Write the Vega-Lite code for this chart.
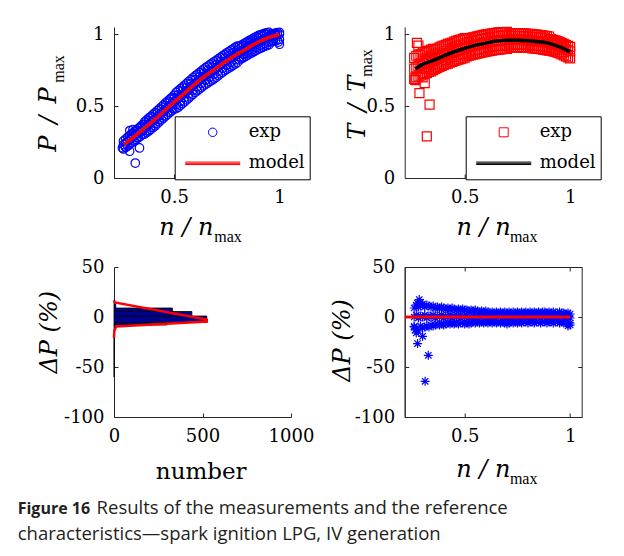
{
"$schema": "https://vega.github.io/schema/vega-lite/v6.json",
"autosize": {"type": "pad"},
"padding": {"left": 17, "top": 24, "right": 5, "bottom": 5},
"background": "white",
"title": {"text": "Figure 16", "subtitle": ["\u200b\u2003\u2003\u2003\u2003\u2009\u200aResults of the measurements and the reference", "characteristics\u2014spark ignition LPG, IV generation"], "orient": "bottom", "anchor": "start", "frame": "group", "offset": 14, "dx": -96.3, "font": "Open Sans", "fontSize": 16, "fontWeight": "bold", "color": "#231f20", "subtitleFont": "Open Sans", "subtitleFontSize": 18.5, "subtitleFontWeight": "normal", "subtitleColor": "#231f20", "subtitlePadding": -18, "subtitleLineHeight": 26},
"columns": 2,
"spacing": {"row": 89, "column": 113.7},
"bounds": "flush",
"resolve": {"scale": {"color": "independent", "shape": "independent"}, "legend": {"color": "independent", "shape": "independent"}},
"datasets": {
"p1": [
{"n":0.26,"p":0.258},{"n":0.26,"p":0.232},{"n":0.26,"p":0.202},
{"n":0.27,"p":0.27},{"n":0.27,"p":0.243},{"n":0.27,"p":0.212},
{"n":0.28,"p":0.284},{"n":0.28,"p":0.254},{"n":0.28,"p":0.222},
{"n":0.29,"p":0.296},{"n":0.29,"p":0.266},{"n":0.29,"p":0.234},
{"n":0.30,"p":0.308},{"n":0.30,"p":0.279},{"n":0.30,"p":0.246},
{"n":0.31,"p":0.32},{"n":0.31,"p":0.29},{"n":0.31,"p":0.256},
{"n":0.32,"p":0.333},{"n":0.32,"p":0.303},{"n":0.32,"p":0.268},
{"n":0.33,"p":0.344},{"n":0.33,"p":0.313},{"n":0.33,"p":0.279},
{"n":0.34,"p":0.357},{"n":0.34,"p":0.326},{"n":0.34,"p":0.29},
{"n":0.35,"p":0.37},{"n":0.35,"p":0.337},{"n":0.35,"p":0.302},
{"n":0.36,"p":0.39},{"n":0.36,"p":0.35},{"n":0.36,"p":0.305},
{"n":0.37,"p":0.403},{"n":0.37,"p":0.362},{"n":0.37,"p":0.316},
{"n":0.38,"p":0.417},{"n":0.38,"p":0.374},{"n":0.38,"p":0.326},
{"n":0.39,"p":0.428},{"n":0.39,"p":0.386},{"n":0.39,"p":0.338},
{"n":0.40,"p":0.442},{"n":0.40,"p":0.398},{"n":0.40,"p":0.35},
{"n":0.41,"p":0.455},{"n":0.41,"p":0.411},{"n":0.41,"p":0.362},
{"n":0.42,"p":0.468},{"n":0.42,"p":0.425},{"n":0.42,"p":0.376},
{"n":0.43,"p":0.481},{"n":0.43,"p":0.438},{"n":0.43,"p":0.39},
{"n":0.44,"p":0.495},{"n":0.44,"p":0.452},{"n":0.44,"p":0.404},
{"n":0.45,"p":0.508},{"n":0.45,"p":0.465},{"n":0.45,"p":0.417},
{"n":0.46,"p":0.522},{"n":0.46,"p":0.478},{"n":0.46,"p":0.43},
{"n":0.47,"p":0.535},{"n":0.47,"p":0.491},{"n":0.47,"p":0.442},
{"n":0.48,"p":0.548},{"n":0.48,"p":0.504},{"n":0.48,"p":0.455},
{"n":0.49,"p":0.56},{"n":0.49,"p":0.517},{"n":0.49,"p":0.468},
{"n":0.50,"p":0.575},{"n":0.50,"p":0.53},{"n":0.50,"p":0.48},
{"n":0.51,"p":0.595},{"n":0.51,"p":0.543},{"n":0.51,"p":0.482},
{"n":0.52,"p":0.607},{"n":0.52,"p":0.555},{"n":0.52,"p":0.492},
{"n":0.53,"p":0.62},{"n":0.53,"p":0.568},{"n":0.53,"p":0.505},
{"n":0.54,"p":0.632},{"n":0.54,"p":0.58},{"n":0.54,"p":0.517},
{"n":0.55,"p":0.645},{"n":0.55,"p":0.593},{"n":0.55,"p":0.53},
{"n":0.56,"p":0.658},{"n":0.56,"p":0.606},{"n":0.56,"p":0.543},
{"n":0.57,"p":0.671},{"n":0.57,"p":0.619},{"n":0.57,"p":0.556},
{"n":0.58,"p":0.684},{"n":0.58,"p":0.632},{"n":0.58,"p":0.569},
{"n":0.59,"p":0.697},{"n":0.59,"p":0.645},{"n":0.59,"p":0.582},
{"n":0.60,"p":0.71},{"n":0.60,"p":0.658},{"n":0.60,"p":0.595},
{"n":0.61,"p":0.721},{"n":0.61,"p":0.669},{"n":0.61,"p":0.606},
{"n":0.62,"p":0.733},{"n":0.62,"p":0.681},{"n":0.62,"p":0.618},
{"n":0.63,"p":0.744},{"n":0.63,"p":0.692},{"n":0.63,"p":0.629},
{"n":0.64,"p":0.756},{"n":0.64,"p":0.704},{"n":0.64,"p":0.641},
{"n":0.65,"p":0.767},{"n":0.65,"p":0.715},{"n":0.65,"p":0.652},
{"n":0.66,"p":0.777},{"n":0.66,"p":0.725},{"n":0.66,"p":0.66},
{"n":0.67,"p":0.788},{"n":0.67,"p":0.736},{"n":0.67,"p":0.67},
{"n":0.68,"p":0.798},{"n":0.68,"p":0.746},{"n":0.68,"p":0.68},
{"n":0.69,"p":0.808},{"n":0.69,"p":0.756},{"n":0.69,"p":0.69},
{"n":0.70,"p":0.818},{"n":0.70,"p":0.766},{"n":0.70,"p":0.7},
{"n":0.71,"p":0.828},{"n":0.71,"p":0.776},{"n":0.71,"p":0.712},
{"n":0.72,"p":0.839},{"n":0.72,"p":0.787},{"n":0.72,"p":0.724},
{"n":0.73,"p":0.849},{"n":0.73,"p":0.797},{"n":0.73,"p":0.735},
{"n":0.74,"p":0.86},{"n":0.74,"p":0.808},{"n":0.74,"p":0.745},
{"n":0.75,"p":0.87},{"n":0.75,"p":0.818},{"n":0.75,"p":0.755},
{"n":0.76,"p":0.879},{"n":0.76,"p":0.827},{"n":0.76,"p":0.764},
{"n":0.77,"p":0.889},{"n":0.77,"p":0.837},{"n":0.77,"p":0.774},
{"n":0.78,"p":0.898},{"n":0.78,"p":0.846},{"n":0.78,"p":0.783},
{"n":0.79,"p":0.908},{"n":0.79,"p":0.856},{"n":0.79,"p":0.793},
{"n":0.80,"p":0.917},{"n":0.80,"p":0.865},{"n":0.80,"p":0.802},
{"n":0.81,"p":0.916},{"n":0.81,"p":0.874},{"n":0.81,"p":0.821},
{"n":0.82,"p":0.924},{"n":0.82,"p":0.882},{"n":0.82,"p":0.829},
{"n":0.83,"p":0.933},{"n":0.83,"p":0.891},{"n":0.83,"p":0.838},
{"n":0.84,"p":0.941},{"n":0.84,"p":0.899},{"n":0.84,"p":0.846},
{"n":0.85,"p":0.95},{"n":0.85,"p":0.908},{"n":0.85,"p":0.855},
{"n":0.86,"p":0.958},{"n":0.86,"p":0.916},{"n":0.86,"p":0.863},
{"n":0.87,"p":0.966},{"n":0.87,"p":0.924},{"n":0.87,"p":0.871},
{"n":0.88,"p":0.975},{"n":0.88,"p":0.933},{"n":0.88,"p":0.88},
{"n":0.89,"p":0.983},{"n":0.89,"p":0.941},{"n":0.89,"p":0.888},
{"n":0.90,"p":0.99},{"n":0.90,"p":0.949},{"n":0.90,"p":0.896},
{"n":0.91,"p":0.996},{"n":0.91,"p":0.955},{"n":0.91,"p":0.902},
{"n":0.92,"p":1.0},{"n":0.92,"p":0.961},{"n":0.92,"p":0.908},
{"n":0.93,"p":1.005},{"n":0.93,"p":0.968},{"n":0.93,"p":0.915},
{"n":0.94,"p":1.01},{"n":0.94,"p":0.974},{"n":0.94,"p":0.921},
{"n":0.95,"p":1.012},{"n":0.95,"p":0.98},{"n":0.95,"p":0.927},
{"n":0.96,"p":1.0},{"n":0.96,"p":0.984},{"n":0.96,"p":0.946},
{"n":0.97,"p":1.003},{"n":0.97,"p":0.988},{"n":0.97,"p":0.95},
{"n":0.98,"p":1.007},{"n":0.98,"p":0.993},{"n":0.98,"p":0.955},
{"n":0.99,"p":1.01},{"n":0.99,"p":0.997},{"n":0.99,"p":0.959},
{"n":1.0,"p":1.013},{"n":1.0,"p":1.0},{"n":1.0,"p":0.963},
{"n":0.30,"p":0.304},{"n":0.31,"p":0.258},{"n":0.32,"p":0.328},{"n":0.33,"p":0.281},{"n":0.34,"p":0.351},{"n":0.35,"p":0.305},
{"n":0.36,"p":0.375},{"n":0.37,"p":0.329},{"n":0.38,"p":0.399},{"n":0.39,"p":0.353},{"n":0.40,"p":0.423},{"n":0.41,"p":0.378},
{"n":0.42,"p":0.45},{"n":0.43,"p":0.405},{"n":0.44,"p":0.477},{"n":0.45,"p":0.432},{"n":0.46,"p":0.503},{"n":0.47,"p":0.458},
{"n":0.48,"p":0.529},{"n":0.49,"p":0.484},{"n":0.50,"p":0.555},{"n":0.51,"p":0.51},{"n":0.52,"p":0.58},{"n":0.53,"p":0.535},
{"n":0.54,"p":0.605},{"n":0.55,"p":0.56},{"n":0.56,"p":0.631},{"n":0.57,"p":0.586},{"n":0.58,"p":0.657},{"n":0.59,"p":0.612},
{"n":0.60,"p":0.683},{"n":0.61,"p":0.636},{"n":0.62,"p":0.706},{"n":0.63,"p":0.659},{"n":0.64,"p":0.729},{"n":0.65,"p":0.682},
{"n":0.66,"p":0.75},{"n":0.67,"p":0.703},{"n":0.68,"p":0.771},{"n":0.69,"p":0.723},{"n":0.70,"p":0.791},{"n":0.71,"p":0.743},
{"n":0.72,"p":0.812},{"n":0.73,"p":0.764},{"n":0.74,"p":0.833},{"n":0.75,"p":0.785},{"n":0.76,"p":0.852},{"n":0.77,"p":0.804},
{"n":0.78,"p":0.871},{"n":0.79,"p":0.823},{"n":0.80,"p":0.89},{"n":0.81,"p":0.841},{"n":0.82,"p":0.907},{"n":0.83,"p":0.858},
{"n":0.84,"p":0.924},{"n":0.85,"p":0.875},{"n":0.86,"p":0.941},{"n":0.87,"p":0.891},{"n":0.88,"p":0.958},{"n":0.89,"p":0.908},
{"n":0.90,"p":0.974},{"n":0.91,"p":0.922},{"n":0.92,"p":0.986},{"n":0.93,"p":0.935},{"n":0.94,"p":0.999},{"n":0.95,"p":0.947},
{"n":0.96,"p":0.995},{"n":0.97,"p":0.955},{"n":0.98,"p":1.0},
{"n":1.0,"p":0.93},{"n":0.995,"p":0.945},
{"n":0.255,"p":0.209},{"n":0.289,"p":0.186},{"n":0.336,"p":0.209},{"n":0.316,"p":0.104},{"n":0.305,"p":0.337},{"n":0.29,"p":0.33},{"n":0.27,"p":0.215}
],
"p1m": [
{"n":0.263,"p":0.232},{"n":0.30,"p":0.276},{"n":0.35,"p":0.335},{"n":0.40,"p":0.395},{"n":0.45,"p":0.462},{"n":0.50,"p":0.527},{"n":0.55,"p":0.59},{"n":0.60,"p":0.655},{"n":0.65,"p":0.712},{"n":0.70,"p":0.763},{"n":0.75,"p":0.815},{"n":0.80,"p":0.862},{"n":0.85,"p":0.905},{"n":0.90,"p":0.946},{"n":0.95,"p":0.977},{"n":1.0,"p":0.998}
],
"p2": [
{"n":0.26,"t":0.835},{"n":0.26,"t":0.76},{"n":0.26,"t":0.69},
{"n":0.27,"t":0.85},{"n":0.27,"t":0.77},{"n":0.27,"t":0.7},
{"n":0.28,"t":0.855},{"n":0.28,"t":0.78},{"n":0.28,"t":0.705},
{"n":0.29,"t":0.86},{"n":0.29,"t":0.785},{"n":0.29,"t":0.712},
{"n":0.30,"t":0.872},{"n":0.30,"t":0.795},{"n":0.30,"t":0.72},
{"n":0.31,"t":0.875},{"n":0.31,"t":0.8},{"n":0.31,"t":0.728},
{"n":0.32,"t":0.882},{"n":0.32,"t":0.805},{"n":0.32,"t":0.73},
{"n":0.33,"t":0.886},{"n":0.33,"t":0.812},{"n":0.33,"t":0.738},
{"n":0.34,"t":0.892},{"n":0.34,"t":0.816},{"n":0.34,"t":0.742},
{"n":0.35,"t":0.898},{"n":0.35,"t":0.822},{"n":0.35,"t":0.75},
{"n":0.36,"t":0.895},{"n":0.36,"t":0.828},{"n":0.36,"t":0.758},
{"n":0.37,"t":0.9},{"n":0.37,"t":0.835},{"n":0.37,"t":0.766},
{"n":0.38,"t":0.908},{"n":0.38,"t":0.84},{"n":0.38,"t":0.772},
{"n":0.39,"t":0.915},{"n":0.39,"t":0.848},{"n":0.39,"t":0.78},
{"n":0.40,"t":0.92},{"n":0.40,"t":0.855},{"n":0.40,"t":0.785},
{"n":0.41,"t":0.926},{"n":0.41,"t":0.86},{"n":0.41,"t":0.792},
{"n":0.42,"t":0.932},{"n":0.42,"t":0.865},{"n":0.42,"t":0.796},
{"n":0.43,"t":0.937},{"n":0.43,"t":0.87},{"n":0.43,"t":0.803},
{"n":0.44,"t":0.942},{"n":0.44,"t":0.876},{"n":0.44,"t":0.808},
{"n":0.45,"t":0.948},{"n":0.45,"t":0.882},{"n":0.45,"t":0.813},
{"n":0.46,"t":0.953},{"n":0.46,"t":0.886},{"n":0.46,"t":0.818},
{"n":0.47,"t":0.958},{"n":0.47,"t":0.892},{"n":0.47,"t":0.823},
{"n":0.48,"t":0.962},{"n":0.48,"t":0.896},{"n":0.48,"t":0.827},
{"n":0.49,"t":0.967},{"n":0.49,"t":0.9},{"n":0.49,"t":0.832},
{"n":0.50,"t":0.972},{"n":0.50,"t":0.906},{"n":0.50,"t":0.837},
{"n":0.51,"t":0.966},{"n":0.51,"t":0.91},{"n":0.51,"t":0.846},
{"n":0.52,"t":0.97},{"n":0.52,"t":0.914},{"n":0.52,"t":0.85},
{"n":0.53,"t":0.975},{"n":0.53,"t":0.918},{"n":0.53,"t":0.854},
{"n":0.54,"t":0.978},{"n":0.54,"t":0.922},{"n":0.54,"t":0.858},
{"n":0.55,"t":0.982},{"n":0.55,"t":0.926},{"n":0.55,"t":0.862},
{"n":0.56,"t":0.985},{"n":0.56,"t":0.929},{"n":0.56,"t":0.865},
{"n":0.57,"t":0.988},{"n":0.57,"t":0.932},{"n":0.57,"t":0.868},
{"n":0.58,"t":0.992},{"n":0.58,"t":0.936},{"n":0.58,"t":0.872},
{"n":0.59,"t":0.995},{"n":0.59,"t":0.939},{"n":0.59,"t":0.875},
{"n":0.60,"t":0.998},{"n":0.60,"t":0.942},{"n":0.60,"t":0.878},
{"n":0.61,"t":1.0},{"n":0.61,"t":0.944},{"n":0.61,"t":0.881},
{"n":0.62,"t":1.002},{"n":0.62,"t":0.948},{"n":0.62,"t":0.884},
{"n":0.63,"t":1.005},{"n":0.63,"t":0.95},{"n":0.63,"t":0.886},
{"n":0.64,"t":1.008},{"n":0.64,"t":0.952},{"n":0.64,"t":0.889},
{"n":0.65,"t":1.01},{"n":0.65,"t":0.955},{"n":0.65,"t":0.892},
{"n":0.66,"t":1.012},{"n":0.66,"t":0.957},{"n":0.66,"t":0.893},
{"n":0.67,"t":1.013},{"n":0.67,"t":0.958},{"n":0.67,"t":0.894},
{"n":0.68,"t":1.014},{"n":0.68,"t":0.96},{"n":0.68,"t":0.896},
{"n":0.69,"t":1.015},{"n":0.69,"t":0.961},{"n":0.69,"t":0.897},
{"n":0.70,"t":1.016},{"n":0.70,"t":0.962},{"n":0.70,"t":0.898},
{"n":0.71,"t":1.005},{"n":0.71,"t":0.962},{"n":0.71,"t":0.908},
{"n":0.72,"t":1.006},{"n":0.72,"t":0.961},{"n":0.72,"t":0.908},
{"n":0.73,"t":1.007},{"n":0.73,"t":0.962},{"n":0.73,"t":0.908},
{"n":0.74,"t":1.006},{"n":0.74,"t":0.961},{"n":0.74,"t":0.908},
{"n":0.75,"t":1.005},{"n":0.75,"t":0.962},{"n":0.75,"t":0.908},
{"n":0.76,"t":1.005},{"n":0.76,"t":0.96},{"n":0.76,"t":0.907},
{"n":0.77,"t":1.006},{"n":0.77,"t":0.96},{"n":0.77,"t":0.907},
{"n":0.78,"t":1.004},{"n":0.78,"t":0.959},{"n":0.78,"t":0.906},
{"n":0.79,"t":1.004},{"n":0.79,"t":0.959},{"n":0.79,"t":0.906},
{"n":0.80,"t":1.003},{"n":0.80,"t":0.958},{"n":0.80,"t":0.905},
{"n":0.81,"t":1.002},{"n":0.81,"t":0.957},{"n":0.81,"t":0.904},
{"n":0.82,"t":1.0},{"n":0.82,"t":0.955},{"n":0.82,"t":0.902},
{"n":0.83,"t":0.999},{"n":0.83,"t":0.954},{"n":0.83,"t":0.901},
{"n":0.84,"t":0.997},{"n":0.84,"t":0.952},{"n":0.84,"t":0.899},
{"n":0.85,"t":0.996},{"n":0.85,"t":0.951},{"n":0.85,"t":0.898},
{"n":0.86,"t":0.994},{"n":0.86,"t":0.949},{"n":0.86,"t":0.896},
{"n":0.87,"t":0.991},{"n":0.87,"t":0.946},{"n":0.87,"t":0.893},
{"n":0.88,"t":0.989},{"n":0.88,"t":0.944},{"n":0.88,"t":0.891},
{"n":0.89,"t":0.986},{"n":0.89,"t":0.941},{"n":0.89,"t":0.888},
{"n":0.90,"t":0.984},{"n":0.90,"t":0.939},{"n":0.90,"t":0.886},
{"n":0.91,"t":0.966},{"n":0.91,"t":0.934},{"n":0.91,"t":0.886},
{"n":0.92,"t":0.961},{"n":0.92,"t":0.929},{"n":0.92,"t":0.881},
{"n":0.93,"t":0.957},{"n":0.93,"t":0.925},{"n":0.93,"t":0.877},
{"n":0.94,"t":0.952},{"n":0.94,"t":0.92},{"n":0.94,"t":0.872},
{"n":0.95,"t":0.947},{"n":0.95,"t":0.915},{"n":0.95,"t":0.867},
{"n":0.96,"t":0.94},{"n":0.96,"t":0.908},{"n":0.96,"t":0.86},
{"n":0.97,"t":0.933},{"n":0.97,"t":0.901},{"n":0.97,"t":0.853},
{"n":0.98,"t":0.926},{"n":0.98,"t":0.894},{"n":0.98,"t":0.846},
{"n":0.99,"t":0.919},{"n":0.99,"t":0.887},{"n":0.99,"t":0.839},
{"n":1.0,"t":0.912},{"n":1.0,"t":0.88},{"n":1.0,"t":0.832},
{"n":0.30,"t":0.825},{"n":0.31,"t":0.761},{"n":0.32,"t":0.836},{"n":0.33,"t":0.772},{"n":0.34,"t":0.847},{"n":0.35,"t":0.783},
{"n":0.36,"t":0.859},{"n":0.37,"t":0.796},{"n":0.38,"t":0.872},{"n":0.39,"t":0.809},{"n":0.40,"t":0.885},{"n":0.41,"t":0.821},
{"n":0.42,"t":0.896},{"n":0.43,"t":0.832},{"n":0.44,"t":0.907},{"n":0.45,"t":0.843},{"n":0.46,"t":0.918},{"n":0.47,"t":0.853},
{"n":0.48,"t":0.927},{"n":0.49,"t":0.862},{"n":0.50,"t":0.937},{"n":0.51,"t":0.871},{"n":0.52,"t":0.945},{"n":0.53,"t":0.879},
{"n":0.54,"t":0.953},{"n":0.55,"t":0.887},{"n":0.56,"t":0.96},{"n":0.57,"t":0.893},{"n":0.58,"t":0.967},{"n":0.59,"t":0.9},
{"n":0.60,"t":0.973},{"n":0.61,"t":0.906},{"n":0.62,"t":0.979},{"n":0.63,"t":0.911},{"n":0.64,"t":0.984},{"n":0.65,"t":0.917},
{"n":0.66,"t":0.988},{"n":0.67,"t":0.919},{"n":0.68,"t":0.991},{"n":0.69,"t":0.922},{"n":0.70,"t":0.993},{"n":0.71,"t":0.923},
{"n":0.72,"t":0.988},{"n":0.73,"t":0.928},{"n":0.74,"t":0.988},{"n":0.75,"t":0.928},{"n":0.76,"t":0.987},{"n":0.77,"t":0.927},
{"n":0.78,"t":0.986},{"n":0.79,"t":0.926},{"n":0.80,"t":0.985},{"n":0.81,"t":0.924},{"n":0.82,"t":0.982},{"n":0.83,"t":0.921},
{"n":0.84,"t":0.979},{"n":0.85,"t":0.918},{"n":0.86,"t":0.976},{"n":0.87,"t":0.913},{"n":0.88,"t":0.971},{"n":0.89,"t":0.908},
{"n":0.90,"t":0.966},{"n":0.91,"t":0.906},{"n":0.92,"t":0.948},{"n":0.93,"t":0.9},{"n":0.94,"t":0.939},{"n":0.95,"t":0.89},
{"n":0.96,"t":0.927},{"n":0.97,"t":0.876},{"n":0.98,"t":0.913},
{"n":0.32,"t":0.29},{"n":0.333,"t":0.51},{"n":0.285,"t":0.59},{"n":0.265,"t":0.68},{"n":0.273,"t":0.94},{"n":0.31,"t":0.66},{"n":0.28,"t":0.92},{"n":0.30,"t":0.7}
],
"p2m": [
{"n":0.265,"t":0.76},{"n":0.30,"t":0.79},{"n":0.35,"t":0.818},{"n":0.40,"t":0.85},{"n":0.45,"t":0.878},{"n":0.50,"t":0.902},{"n":0.55,"t":0.922},{"n":0.60,"t":0.938},{"n":0.65,"t":0.952},{"n":0.70,"t":0.958},{"n":0.75,"t":0.958},{"n":0.80,"t":0.955},{"n":0.85,"t":0.948},{"n":0.90,"t":0.936},{"n":0.95,"t":0.912},{"n":1.0,"t":0.877}
],
"p3": [
{"v":-60,"v2":-20,"c":1},{"v":-20,"v2":-11,"c":3},{"v":-11,"v2":-8,"c":10},{"v":-8,"v2":-5.5,"c":300},{"v":-5.5,"v2":1,"c":524},{"v":1,"v2":5.5,"c":440},{"v":5.5,"v2":9,"c":330},{"v":9,"v2":13,"c":10},{"v":13,"v2":17,"c":3}
],
"p3m": [
{"k":1,"c":0,"v":16.5},{"k":2,"c":5,"v":14.6},{"k":3,"c":524,"v":-2.5},{"k":4,"c":524,"v":-4.5},{"k":5,"c":12,"v":-9.5},{"k":6,"c":2,"v":-14},{"k":7,"c":0,"v":-21}
],
"p4": [
{"n":0.26,"d":9},{"n":0.26,"d":0},{"n":0.26,"d":-10},
{"n":0.27,"d":12},{"n":0.27,"d":2},{"n":0.27,"d":-12},
{"n":0.28,"d":10},{"n":0.28,"d":-1},{"n":0.28,"d":-14},
{"n":0.29,"d":11},{"n":0.29,"d":1},{"n":0.29,"d":-9},
{"n":0.30,"d":13},{"n":0.30,"d":0},{"n":0.30,"d":-11},
{"n":0.31,"d":10},{"n":0.31,"d":2},{"n":0.31,"d":-10},
{"n":0.32,"d":12},{"n":0.32,"d":-1},{"n":0.32,"d":-9},
{"n":0.33,"d":11},{"n":0.33,"d":1},{"n":0.33,"d":-10},
{"n":0.34,"d":10},{"n":0.34,"d":0},{"n":0.34,"d":-8},
{"n":0.35,"d":11},{"n":0.35,"d":2},{"n":0.35,"d":-9},
{"n":0.36,"d":9},{"n":0.36,"d":-1},{"n":0.36,"d":-8},
{"n":0.37,"d":10},{"n":0.37,"d":1},{"n":0.37,"d":-7},
{"n":0.38,"d":9},{"n":0.38,"d":0},{"n":0.38,"d":-8},
{"n":0.39,"d":10},{"n":0.39,"d":2},{"n":0.39,"d":-7},
{"n":0.40,"d":9},{"n":0.40,"d":-1},{"n":0.40,"d":-8},
{"n":0.41,"d":8},{"n":0.41,"d":1},{"n":0.41,"d":-7},
{"n":0.42,"d":9},{"n":0.42,"d":0},{"n":0.42,"d":-6},
{"n":0.43,"d":8},{"n":0.43,"d":2},{"n":0.43,"d":-7},
{"n":0.44,"d":9},{"n":0.44,"d":-1},{"n":0.44,"d":-6},
{"n":0.45,"d":8},{"n":0.45,"d":1},{"n":0.45,"d":-7},
{"n":0.46,"d":7},{"n":0.46,"d":0},{"n":0.46,"d":-6},
{"n":0.47,"d":8},{"n":0.47,"d":1},{"n":0.47,"d":-7},
{"n":0.48,"d":7},{"n":0.48,"d":-1},{"n":0.48,"d":-6},
{"n":0.49,"d":8},{"n":0.49,"d":1},{"n":0.49,"d":-6},
{"n":0.50,"d":7},{"n":0.50,"d":0},{"n":0.50,"d":-7},
{"n":0.51,"d":7},{"n":0.51,"d":1},{"n":0.51,"d":-6},
{"n":0.52,"d":6},{"n":0.52,"d":-1},{"n":0.52,"d":-7},
{"n":0.53,"d":7},{"n":0.53,"d":0},{"n":0.53,"d":-6},
{"n":0.54,"d":6},{"n":0.54,"d":1},{"n":0.54,"d":-5},
{"n":0.55,"d":7},{"n":0.55,"d":0},{"n":0.55,"d":-6},
{"n":0.56,"d":6},{"n":0.56,"d":-1},{"n":0.56,"d":-5},
{"n":0.57,"d":5},{"n":0.57,"d":1},{"n":0.57,"d":-6},
{"n":0.58,"d":6},{"n":0.58,"d":0},{"n":0.58,"d":-5},
{"n":0.59,"d":5},{"n":0.59,"d":1},{"n":0.59,"d":-6},
{"n":0.60,"d":6},{"n":0.60,"d":-1},{"n":0.60,"d":-5},
{"n":0.61,"d":5},{"n":0.61,"d":0},{"n":0.61,"d":-6},
{"n":0.62,"d":4},{"n":0.62,"d":1},{"n":0.62,"d":-5},
{"n":0.63,"d":5},{"n":0.63,"d":0},{"n":0.63,"d":-6},
{"n":0.64,"d":4},{"n":0.64,"d":-1},{"n":0.64,"d":-5},
{"n":0.65,"d":5},{"n":0.65,"d":1},{"n":0.65,"d":-6},
{"n":0.66,"d":4},{"n":0.66,"d":0},{"n":0.66,"d":-5},
{"n":0.67,"d":5},{"n":0.67,"d":1},{"n":0.67,"d":-6},
{"n":0.68,"d":4},{"n":0.68,"d":-1},{"n":0.68,"d":-5},
{"n":0.69,"d":5},{"n":0.69,"d":0},{"n":0.69,"d":-6},
{"n":0.70,"d":4},{"n":0.70,"d":1},{"n":0.70,"d":-7},
{"n":0.71,"d":5},{"n":0.71,"d":0},{"n":0.71,"d":-6},
{"n":0.72,"d":4},{"n":0.72,"d":-1},{"n":0.72,"d":-5},
{"n":0.73,"d":5},{"n":0.73,"d":0},{"n":0.73,"d":-6},
{"n":0.74,"d":4},{"n":0.74,"d":1},{"n":0.74,"d":-5},
{"n":0.75,"d":5},{"n":0.75,"d":0},{"n":0.75,"d":-6},
{"n":0.76,"d":4},{"n":0.76,"d":-1},{"n":0.76,"d":-5},
{"n":0.77,"d":5},{"n":0.77,"d":1},{"n":0.77,"d":-6},
{"n":0.78,"d":4},{"n":0.78,"d":0},{"n":0.78,"d":-5},
{"n":0.79,"d":5},{"n":0.79,"d":0},{"n":0.79,"d":-5},
{"n":0.80,"d":4},{"n":0.80,"d":1},{"n":0.80,"d":-6},
{"n":0.81,"d":5},{"n":0.81,"d":0},{"n":0.81,"d":-5},
{"n":0.82,"d":4},{"n":0.82,"d":-1},{"n":0.82,"d":-5},
{"n":0.83,"d":5},{"n":0.83,"d":0},{"n":0.83,"d":-6},
{"n":0.84,"d":4},{"n":0.84,"d":1},{"n":0.84,"d":-5},
{"n":0.85,"d":5},{"n":0.85,"d":0},{"n":0.85,"d":-5},
{"n":0.86,"d":4},{"n":0.86,"d":-1},{"n":0.86,"d":-6},
{"n":0.87,"d":5},{"n":0.87,"d":0},{"n":0.87,"d":-5},
{"n":0.88,"d":5},{"n":0.88,"d":1},{"n":0.88,"d":-5},
{"n":0.89,"d":4},{"n":0.89,"d":0},{"n":0.89,"d":-6},
{"n":0.90,"d":5},{"n":0.90,"d":-1},{"n":0.90,"d":-5},
{"n":0.91,"d":4},{"n":0.91,"d":0},{"n":0.91,"d":-5},
{"n":0.92,"d":5},{"n":0.92,"d":1},{"n":0.92,"d":-6},
{"n":0.93,"d":4},{"n":0.93,"d":0},{"n":0.93,"d":-5},
{"n":0.94,"d":4},{"n":0.94,"d":-1},{"n":0.94,"d":-5},
{"n":0.95,"d":5},{"n":0.95,"d":0},{"n":0.95,"d":-6},
{"n":0.96,"d":4},{"n":0.96,"d":1},{"n":0.96,"d":-5},
{"n":0.97,"d":4},{"n":0.97,"d":0},{"n":0.97,"d":-6},
{"n":0.98,"d":3},{"n":0.98,"d":-1},{"n":0.98,"d":-5},
{"n":0.99,"d":4},{"n":0.99,"d":0},{"n":0.99,"d":-7},
{"n":1.0,"d":3},{"n":1.0,"d":-1},{"n":1.0,"d":-8},
{"n":0.284,"d":17.4},{"n":0.26,"d":-9.3},{"n":0.276,"d":-26.6},{"n":0.30,"d":-19.3},{"n":0.327,"d":-38.3},{"n":0.312,"d":-64.3},{"n":0.29,"d":15},{"n":0.265,"d":-13},{"n":0.99,"d":-9},{"n":1.0,"d":-6},{"n":0.275,"d":14},{"n":0.27,"d":-16}
],
"p4m": [{"n":0.215,"d":0},{"n":1.0,"d":0}]
},
"concat": [
{
"width": 177, "height": 151,
"layer": [
{"data": {"name": "p1"}, "mark": {"type": "point", "filled": false, "size": 3025, "strokeWidth": 1.2, "opacity": 1},
 "encoding": {
  "x": {"field": "n", "type": "quantitative", "scale": {"domain": [0.215, 1.055], "nice": false, "zero": false},
        "axis": {"orient": "bottom", "values": [0.5, 1], "labelExpr": "'' + datum.value", "title": "n / n", "titleX": 44.7, "titleY": 56.6, "titleAlign": "left", "titleBaseline": "alphabetic"}},
  "y": {"field": "p", "type": "quantitative", "scale": {"domain": [0, 1.05], "nice": false, "zero": false},
        "axis": {"orient": "left", "values": [0, 0.5, 1], "labelExpr": "'' + datum.value", "title": "P\u2002/\u2002P", "titleX": -58.3, "titleY": 124.3, "titleAlign": "left", "titleBaseline": "alphabetic", "titleAngle": 270}},
  "color": {"datum": "exp", "scale": {"domain": ["exp", "model"], "range": ["#0000ff", "#ff0000"]},
        "legend": {"orient": "none", "legendX": 60.7, "legendY": 89.3, "title": null, "strokeColor": "#000", "fillColor": "#fff", "padding": 5, "symbolSize": 3025, "symbolStrokeWidth": 1, "clipHeight": 22, "rowPadding": 9, "labelOffset": 8, "symbolOffset": 5, "labelFont": "DejaVu Serif", "labelFontSize": 18, "labelColor": "#000"}},
  "shape": {"datum": "exp", "scale": {"domain": ["exp", "model"], "range": ["M0.155,0A0.155,0.155,0,1,1,-0.155,0A0.155,0.155,0,1,1,0.155,0Z", "M-1,-0.045L1,-0.045M-1,0L1,0M-1,0.045L1,0.045"]},
        "legend": {"orient": "none", "legendX": 60.7, "legendY": 89.3, "title": null, "strokeColor": "#000", "fillColor": "#fff", "padding": 5, "symbolSize": 3025, "symbolStrokeWidth": 1, "clipHeight": 22, "rowPadding": 9, "labelOffset": 8, "symbolOffset": 5, "labelFont": "DejaVu Serif", "labelFontSize": 18, "labelColor": "#000"}}
 }},
{"data": {"name": "p1m"}, "mark": {"type": "line", "strokeWidth": 3.5, "interpolate": "monotone"},
 "encoding": {
  "x": {"field": "n", "type": "quantitative", "axis": {"orient": "bottom", "title": "max", "domain": false, "ticks": false, "labels": false, "titleX": 99.7, "titleY": 63.3, "titleFont": "Liberation Serif", "titleFontSize": 16, "titleFontStyle": "normal", "titleAlign": "left", "titleBaseline": "alphabetic"}},
  "y": {"field": "p", "type": "quantitative", "axis": {"orient": "left", "title": "max", "domain": false, "ticks": false, "labels": false, "titleX": -51, "titleY": 55.3, "titleFont": "Liberation Serif", "titleFontSize": 16, "titleFontStyle": "normal", "titleAlign": "left", "titleBaseline": "alphabetic", "titleAngle": 270}},
  "color": {"datum": "model"}
 }}
],
"resolve": {"axis": {"x": "independent", "y": "independent"}}
},
{
"width": 177, "height": 151,
"layer": [
{"data": {"name": "p2"}, "mark": {"type": "point", "filled": false, "size": 3025, "strokeWidth": 1.2, "opacity": 1},
 "encoding": {
  "x": {"field": "n", "type": "quantitative", "scale": {"domain": [0.215, 1.055], "nice": false, "zero": false},
        "axis": {"orient": "bottom", "values": [0.5, 1], "labelExpr": "'' + datum.value", "title": "n / n", "titleX": 51.3, "titleY": 56.6, "titleAlign": "left", "titleBaseline": "alphabetic"}},
  "y": {"field": "t", "type": "quantitative", "scale": {"domain": [0, 1.05], "nice": false, "zero": false},
        "axis": {"orient": "left", "values": [0, 0.5, 1], "labelExpr": "'' + datum.value", "title": "T\u2002/\u2002T", "titleX": -40.3, "titleY": 112.3, "titleAlign": "left", "titleBaseline": "alphabetic", "titleAngle": 270}},
  "color": {"datum": "exp", "scale": {"domain": ["exp", "model"], "range": ["#ff0000", "#000000"]},
        "legend": {"orient": "none", "legendX": 61, "legendY": 89.3, "title": null, "strokeColor": "#000", "fillColor": "#fff", "padding": 5, "symbolSize": 3025, "symbolStrokeWidth": 1, "clipHeight": 22, "rowPadding": 9, "labelOffset": 8, "symbolOffset": 5, "labelFont": "DejaVu Serif", "labelFontSize": 18, "labelColor": "#000"}},
  "shape": {"datum": "exp", "scale": {"domain": ["exp", "model"], "range": ["M-0.164,-0.164L0.164,-0.164L0.164,0.164L-0.164,0.164Z", "M-1,-0.045L1,-0.045M-1,0L1,0M-1,0.045L1,0.045"]},
        "legend": {"orient": "none", "legendX": 61, "legendY": 89.3, "title": null, "strokeColor": "#000", "fillColor": "#fff", "padding": 5, "symbolSize": 3025, "symbolStrokeWidth": 1, "clipHeight": 22, "rowPadding": 9, "labelOffset": 8, "symbolOffset": 5, "labelFont": "DejaVu Serif", "labelFontSize": 18, "labelColor": "#000"}}
 }},
{"data": {"name": "p2m"}, "mark": {"type": "line", "strokeWidth": 3.5, "interpolate": "monotone"},
 "encoding": {
  "x": {"field": "n", "type": "quantitative", "axis": {"orient": "bottom", "title": "max", "domain": false, "ticks": false, "labels": false, "titleX": 104.7, "titleY": 63.3, "titleFont": "Liberation Serif", "titleFontSize": 16, "titleFontStyle": "normal", "titleAlign": "left", "titleBaseline": "alphabetic"}},
  "y": {"field": "t", "type": "quantitative", "axis": {"orient": "left", "title": "max", "domain": false, "ticks": false, "labels": false, "titleX": -33, "titleY": 49.3, "titleFont": "Liberation Serif", "titleFontSize": 16, "titleFontStyle": "normal", "titleAlign": "left", "titleBaseline": "alphabetic", "titleAngle": 270}},
  "color": {"datum": "model"}
 }}
],
"resolve": {"axis": {"x": "independent", "y": "independent"}}
},
{
"width": 177, "height": 150,
"layer": [
{"data": {"name": "p3"}, "mark": {"type": "rect", "color": "#00008f", "stroke": "#000000", "strokeWidth": 0.8},
 "encoding": {
  "x": {"field": "c", "type": "quantitative", "scale": {"domain": [0, 1000], "nice": false},
        "axis": {"orient": "bottom", "values": [0, 500, 1000], "labelExpr": "'' + datum.value", "title": "number", "titleFontStyle": "normal", "titleFontSize": 23, "titleX": 86.7, "titleY": 61.3, "titleAlign": "center", "titleBaseline": "alphabetic"}},
  "x2": {"datum": 0},
  "y": {"field": "v", "type": "quantitative", "scale": {"domain": [-100, 50], "nice": false, "zero": false},
        "axis": {"orient": "left", "values": [-100, -50, 0, 50], "labelExpr": "'' + datum.value", "title": "\u0394P (%)", "titleX": -57.8, "titleY": 106, "titleAlign": "left", "titleBaseline": "alphabetic", "titleAngle": 270}},
  "y2": {"field": "v2"}
 }},
{"data": {"name": "p3m"}, "mark": {"type": "line", "color": "#ff0000", "strokeWidth": 2.5},
 "encoding": {
  "x": {"field": "c", "type": "quantitative"},
  "y": {"field": "v", "type": "quantitative"},
  "order": {"field": "k", "type": "quantitative"}
 }}
]
},
{
"width": 177, "height": 150,
"view": {"stroke": "#262626", "strokeWidth": 1},
"layer": [
{"data": {"name": "p4"}, "mark": {"type": "point", "filled": false, "size": 81, "strokeWidth": 1.2, "opacity": 1, "color": "#0000ff", "shape": "M-1,0L1,0M0,-1L0,1M-0.71,-0.71L0.71,0.71M-0.71,0.71L0.71,-0.71"},
 "encoding": {
  "x": {"field": "n", "type": "quantitative", "scale": {"domain": [0.215, 1.055], "nice": false, "zero": false},
        "axis": {"orient": "bottom", "values": [0.5, 1], "labelExpr": "'' + datum.value", "title": "n / n", "titleX": 51, "titleY": 59.3, "titleAlign": "left", "titleBaseline": "alphabetic"}},
  "y": {"field": "d", "type": "quantitative", "scale": {"domain": [-100, 50], "nice": false, "zero": false},
        "axis": {"orient": "left", "values": [-100, -50, 0, 50], "labelExpr": "'' + datum.value", "title": "\u0394P (%)", "titleX": -55, "titleY": 114.3, "titleAlign": "left", "titleBaseline": "alphabetic", "titleAngle": 270}}
 }},
{"data": {"name": "p4m"}, "mark": {"type": "line", "color": "#ff0000", "strokeWidth": 3, "clip": true},
 "encoding": {
  "x": {"field": "n", "type": "quantitative", "axis": {"orient": "bottom", "title": "max", "domain": false, "ticks": false, "labels": false, "titleX": 104.7, "titleY": 66, "titleFont": "Liberation Serif", "titleFontSize": 16, "titleFontStyle": "normal", "titleAlign": "left", "titleBaseline": "alphabetic"}},
  "y": {"field": "d", "type": "quantitative", "axis": {"orient": "right", "title": null, "domain": false, "labels": false, "values": [-100, -50, 0, 50]}}
 }},
{"data": {"name": "p4m"}, "mark": {"type": "line", "color": "#ff0000", "strokeWidth": 3, "opacity": 0},
 "encoding": {
  "x": {"field": "n", "type": "quantitative", "axis": {"orient": "top", "title": null, "domain": false, "labels": false, "values": [0.5, 1]}},
  "y": {"field": "d", "type": "quantitative", "axis": null}
 }}
],
"resolve": {"axis": {"x": "independent", "y": "independent"}}
}
],
"config": {
 "view": {"stroke": null},
 "font": "DejaVu Serif",
 "axis": {"grid": false, "labelFlush": false, "labelOverlap": false, "domainColor": "#262626", "domainWidth": 1, "tickColor": "#262626", "tickWidth": 1, "tickSize": -4, "labelPadding": 14, "labelFont": "DejaVu Serif", "labelFontSize": 18, "labelColor": "#000000", "titleFont": "DejaVu Serif", "titleFontSize": 24, "titleFontStyle": "italic", "titleFontWeight": "normal", "titleColor": "#000000"},
 "axisY": {"labelPadding": 14}
}
}
